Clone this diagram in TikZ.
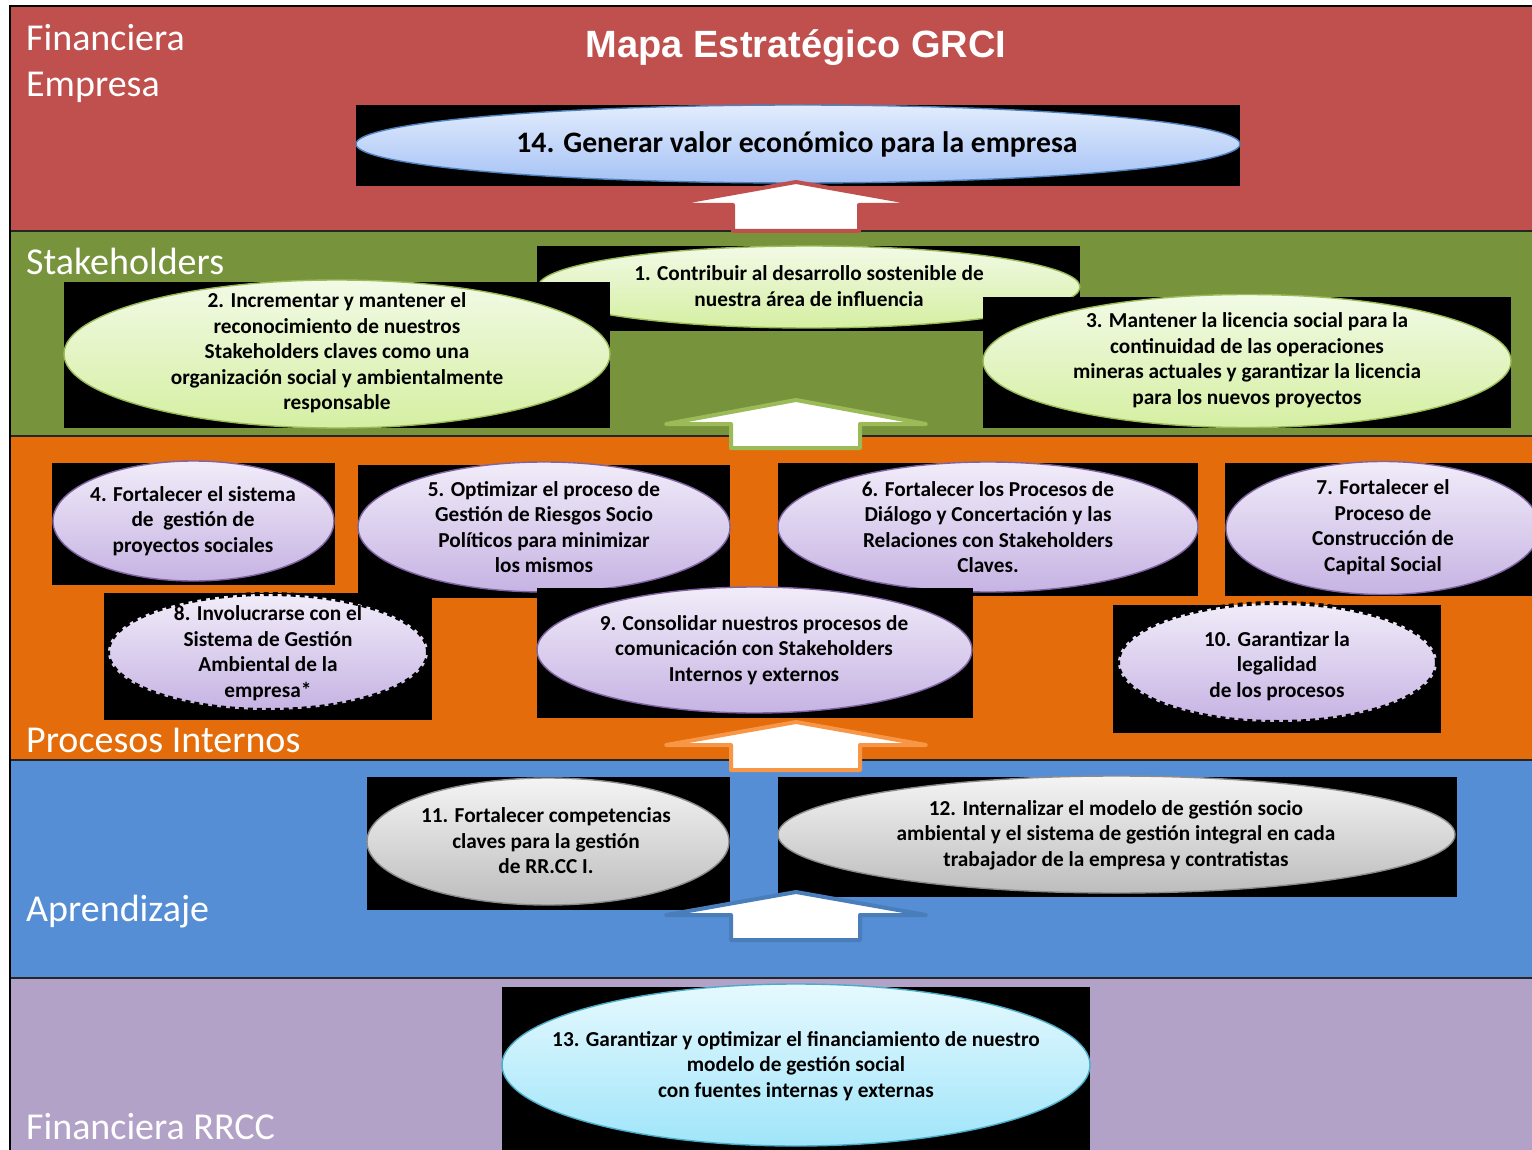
\documentclass[tikz,border=0pt]{standalone}
\usepackage{fontspec}
\setmainfont{Carlito}
\newfontfamily\titlefont{Liberation Sans}
\usetikzlibrary{shapes.geometric}

\definecolor{bandred}{HTML}{C0504D}
\definecolor{bandgreen}{HTML}{77933C}
\definecolor{bandorange}{HTML}{E46C0A}
\definecolor{bandblue}{HTML}{558ED5}
\definecolor{bandpurple}{HTML}{B3A2C7}
\definecolor{bluetop}{HTML}{E2ECFD}
\definecolor{bluebot}{HTML}{A5C2F5}
\definecolor{blueline}{HTML}{4F81BD}
\definecolor{greentop}{HTML}{F2FAE6}
\definecolor{greenbot}{HTML}{D5EFA2}
\definecolor{greenline}{HTML}{9BBB59}
\definecolor{purptop}{HTML}{F1ECF9}
\definecolor{purpbot}{HTML}{C6B3E3}
\definecolor{purpline}{HTML}{8064A2}
\definecolor{graytop}{HTML}{F4F4F4}
\definecolor{graybot}{HTML}{BDBDBD}
\definecolor{grayline}{HTML}{8C8C8C}
\definecolor{cyantop}{HTML}{E6F9FE}
\definecolor{cyanbot}{HTML}{A0E5FA}
\definecolor{cyanline}{HTML}{4BACC6}
\definecolor{orangeline}{HTML}{F79646}
\definecolor{darkblueline}{HTML}{4A7EBB}

\tikzset{
  goal/.style={ellipse, inner sep=0pt, line width=1.4pt},
  bluegoal/.style={goal, draw=blueline, top color=bluetop, bottom color=bluebot},
  greengoal/.style={goal, draw=greenline, top color=greentop, bottom color=greenbot},
  purpgoal/.style={goal, draw=purpline, top color=purptop, bottom color=purpbot},
  dashgoal/.style={goal, draw=none, top color=purptop, bottom color=purpbot},
  dashrim/.style={ellipse, inner sep=0pt, draw=black, line width=4pt, dash pattern=on 5pt off 4pt},
  graygoal/.style={goal, draw=grayline, top color=graytop, bottom color=graybot},
  cyangoal/.style={goal, draw=cyanline, top color=cyantop, bottom color=cyanbot},
  goaltext/.style={inner sep=0pt, align=center, text=black,
    font=\bfseries\fontsize{21.3}{25.5}\selectfont},
  bandlabel/.style={inner sep=0pt, anchor=base west, text=white,
    font=\fontsize{38}{44}\selectfont},
  backbox/.style={fill=black},
  blockarrow/.style={fill=white, line width=4pt, line join=round}
}

\begin{document}
\begin{tikzpicture}[x=1pt, y=-1pt]
\useasboundingbox (0,0) rectangle (1532,1150);
\begin{scope}
\clip (0,0) rectangle (1532,1150);

% perspective bands
\fill[bandred]    (10,6)   rectangle (1532,231);
\fill[bandgreen]  (10,231) rectangle (1532,436);
\fill[bandorange] (10,436) rectangle (1532,760);
\fill[bandblue]   (10,760) rectangle (1532,978);
\fill[bandpurple] (10,978) rectangle (1532,1150);
\foreach \yy in {231,436,760,978}
  \draw[black!85, line width=1.2pt] (10,\yy) -- (1532,\yy);
\draw[black, line width=1.2pt] (10,1150) -- (10,6) -- (1532,6);

% band titles
\node[bandlabel] (lblfin) at (26,51) {Financiera};
\node[bandlabel] (lblemp) at (26,97) {Empresa};
\node[bandlabel] (lblstk) at (26,275) {Stakeholders};
\node[bandlabel] (lblpro) at (26,752) {Procesos Internos};
\node[bandlabel] (lblapr) at (26,921) {Aprendizaje};
\node[bandlabel] (lblrrc) at (26,1139) {Financiera RRCC};
\node[inner sep=0pt, anchor=base, text=white, font=\titlefont\bfseries\fontsize{38}{44}\selectfont]
  (title) at (796,58) {Mapa Estratégico GRCI};

% 14
\fill[backbox] (356,105) rectangle (1240,186);
\node[bluegoal, minimum width=884, minimum height=78] (e14) at (798,144) {};
\node[goaltext, font=\bfseries\fontsize{29.7}{32}\selectfont] (t14) at (797,144) {14. Generar valor económico para la empresa};

% 1
\fill[backbox] (537,246) rectangle (1080,331);
\node[greengoal, minimum width=542, minimum height=82] (e1) at (809,287) {};
\node[goaltext] (t1) at (809,286) {1. Contribuir al desarrollo sostenible de\\nuestra área de influencia};

% 2
\fill[backbox] (64,282) rectangle (610,428);
\node[greengoal, minimum width=546, minimum height=148] (e2) at (337,354) {};
\node[goaltext] (t2) at (337,353) {2. Incrementar y mantener el\\reconocimiento de nuestros\\Stakeholders claves como una\\organización social y ambientalmente\\responsable};

% 3
\fill[backbox] (983,297) rectangle (1511,428);
\node[greengoal, minimum width=528, minimum height=133] (e3) at (1247,361) {};
\node[goaltext] (t3) at (1247,360) {3. Mantener la licencia social para la\\continuidad de las operaciones\\mineras actuales y garantizar la licencia\\para los nuevos proyectos};

% 4
\fill[backbox] (52,463) rectangle (335,585);
\node[purpgoal, minimum width=281, minimum height=120] (e4) at (193.5,521) {};
\node[goaltext] (t4) at (193,521) {4. Fortalecer el sistema\\de\ \ gestión de\\proyectos sociales};

% 5
\fill[backbox] (358,465) rectangle (730,598);
\node[purpgoal, minimum width=372, minimum height=130] (e5) at (544,527) {};
\node[goaltext] (t5) at (544,527) {5. Optimizar el proceso de\\Gestión de Riesgos Socio\\Políticos para minimizar\\los mismos};

% 6
\fill[backbox] (778,463) rectangle (1198,596);
\node[purpgoal, minimum width=420, minimum height=130] (e6) at (988,527) {};
\node[goaltext] (t6) at (988,527) {6. Fortalecer los Procesos de\\Diálogo y Concertación y las\\Relaciones con Stakeholders\\Claves.};

% 7
\fill[backbox] (1225,463) rectangle (1532,596);
\node[purpgoal, minimum width=314, minimum height=133] (e7) at (1383,528) {};
\node[goaltext] (t7) at (1383,527) {7. Fortalecer el\\Proceso de\\Construcción de\\Capital Social};

% 9
\fill[backbox] (537,588) rectangle (973,718);
\node[purpgoal, minimum width=435, minimum height=126] (e9) at (754.5,650) {};
\node[goaltext] (t9) at (754,650) {9. Consolidar nuestros procesos de\\comunicación con Stakeholders\\Internos y externos};

% 8
\fill[backbox] (104,593) rectangle (432,720);
\node[dashgoal, minimum width=320, minimum height=116] (e8) at (268,652) {};
\node[dashrim, minimum width=320, minimum height=116] (e8rim) at (268,652) {};
\node[goaltext] (t8) at (268,653) {8. Involucrarse con el\\Sistema de Gestión\\Ambiental de la\\empresa*};

% 10
\fill[backbox] (1113,605) rectangle (1441,733);
\node[dashgoal, minimum width=319, minimum height=119] (e10) at (1277.5,662.5) {};
\node[dashrim, minimum width=319, minimum height=119] (e10rim) at (1277.5,662.5) {};
\node[goaltext] (t10) at (1277,666) {10. Garantizar la\\legalidad\\de los procesos};

% 11
\fill[backbox] (367,777) rectangle (730,910);
\node[graygoal, minimum width=362, minimum height=127] (e11) at (548,841.5) {};
\node[goaltext] (t11) at (546,841) {11. Fortalecer competencias\\claves para la gestión\\de RR.CC I.};

% 12
\fill[backbox] (778,777) rectangle (1457,897);
\node[graygoal, minimum width=677, minimum height=117] (e12) at (1116.5,834.5) {};
\node[goaltext] (t12) at (1116,835) {12. Internalizar el modelo de gestión socio\\ambiental y el sistema de gestión integral en cada\\trabajador de la empresa y contratistas};

% 13
\fill[backbox] (502,987) rectangle (1090,1150);
\node[cyangoal, minimum width=588, minimum height=162] (e13) at (796,1065) {};
\node[goaltext] (t13) at (796,1066) {13. Garantizar y optimizar el financiamiento de nuestro\\modelo de gestión social\\con fuentes internas y externas};

% upward block arrows between perspectives
\filldraw[blockarrow, draw=bandred]
  (733,231) -- (733,205) -- (667,205) -- (796,182) -- (925,205) -- (859,205) -- (859,231) -- cycle;
\filldraw[blockarrow, draw=greenline]
  (731,448) -- (731,424) -- (666,424) -- (796,400) -- (926,424) -- (860,424) -- (860,448) -- cycle;
\filldraw[blockarrow, draw=orangeline]
  (731,770) -- (731,745) -- (666,745) -- (796,722) -- (926,745) -- (860,745) -- (860,770) -- cycle;
\filldraw[blockarrow, draw=darkblueline]
  (731,940) -- (731,915) -- (666,915) -- (796,892) -- (926,915) -- (860,915) -- (860,940) -- cycle;
\end{scope}
\end{tikzpicture}
\end{document}
